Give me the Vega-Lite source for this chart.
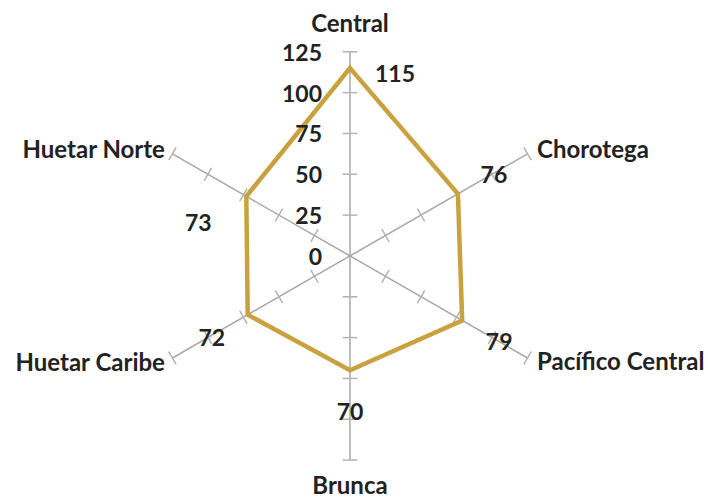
{
  "$schema": "https://vega.github.io/schema/vega-lite/v6.json",
  "width": 708,
  "height": 500,
  "autosize": {"type": "fit", "contains": "padding"},
  "padding": 0,
  "background": "white",
  "config": {"view": {"stroke": null}, "text": {"font": "Lato", "fontWeight": "bold", "fontSize": 23, "color": "#222222"}},
  "datasets": {
    "regions": [
      {"region": "Central", "angle": 90, "value": 115, "order": 0, "ticks": [25, 50, 75, 100, 125]},
      {"region": "Chorotega", "angle": 30, "value": 76, "order": 1, "ticks": [25, 50, 75, 100, 125]},
      {"region": "Pacífico Central", "angle": -30, "value": 79, "order": 2, "ticks": [25, 50, 75, 100, 125]},
      {"region": "Brunca", "angle": -90, "value": 70, "order": 3, "ticks": [25, 50, 75, 100, 125]},
      {"region": "Huetar Caribe", "angle": -150, "value": 72, "order": 4, "ticks": [25, 50, 75, 100, 125]},
      {"region": "Huetar Norte", "angle": 150, "value": 73, "order": 5, "ticks": [25, 50, 75, 100, 125]}
    ],
    "levels": [
      {"level": 0}, {"level": 25}, {"level": 50}, {"level": 75}, {"level": 100}, {"level": 125}
    ]
  },
  "layer": [
    {
      "data": {"name": "regions"},
      "transform": [
        {"calculate": "datum.angle*PI/180", "as": "rad"},
        {"calculate": "125*cos(datum.rad)", "as": "ex"},
        {"calculate": "125*sin(datum.rad)", "as": "ey"},
        {"calculate": "0", "as": "o"}
      ],
      "mark": {"type": "rule", "color": "#a8a8a8", "strokeWidth": 1.5},
      "encoding": {
        "x": {"field": "o", "type": "quantitative", "scale": {"domain": [-213.4, 218.3], "nice": false, "zero": false}, "axis": null},
        "y": {"field": "o", "type": "quantitative", "scale": {"domain": [-148.2, 156.7], "nice": false, "zero": false}, "axis": null},
        "x2": {"field": "ex"},
        "y2": {"field": "ey"}
      }
    },
    {
      "data": {"name": "regions"},
      "transform": [
        {"flatten": ["ticks"], "as": ["t"]},
        {"calculate": "datum.angle*PI/180", "as": "rad"},
        {"calculate": "datum.t*cos(datum.rad) - 4.5*sin(datum.rad)", "as": "ax"},
        {"calculate": "datum.t*sin(datum.rad) + 4.5*cos(datum.rad)", "as": "ay"},
        {"calculate": "datum.t*cos(datum.rad) + 4.5*sin(datum.rad)", "as": "bx"},
        {"calculate": "datum.t*sin(datum.rad) - 4.5*cos(datum.rad)", "as": "by"}
      ],
      "mark": {"type": "rule", "color": "#b3b3b3", "strokeWidth": 1.5},
      "encoding": {
        "x": {"field": "ax", "type": "quantitative", "scale": {"domain": [-213.4, 218.3], "nice": false, "zero": false}, "axis": null},
        "y": {"field": "ay", "type": "quantitative", "scale": {"domain": [-148.2, 156.7], "nice": false, "zero": false}, "axis": null},
        "x2": {"field": "bx"},
        "y2": {"field": "by"}
      }
    },
    {
      "data": {"name": "regions"},
      "transform": [
        {"calculate": "datum.angle*PI/180", "as": "rad"},
        {"calculate": "datum.value*cos(datum.rad)", "as": "vx"},
        {"calculate": "datum.value*sin(datum.rad)", "as": "vy"}
      ],
      "mark": {"type": "line", "color": "#c9a23f", "strokeWidth": 4.5, "interpolate": "linear-closed"},
      "encoding": {
        "x": {"field": "vx", "type": "quantitative", "scale": {"domain": [-213.4, 218.3], "nice": false, "zero": false}, "axis": null},
        "y": {"field": "vy", "type": "quantitative", "scale": {"domain": [-148.2, 156.7], "nice": false, "zero": false}, "axis": null},
        "order": {"field": "order", "type": "quantitative"}
      }
    },
    {
      "data": {"name": "regions"},
      "transform": [
        {"calculate": "datum.angle*PI/180", "as": "rad"},
        {"calculate": "datum.region==='Central' ? 45 : datum.region==='Chorotega' ? 36 : datum.region==='Pacífico Central' ? 37 : datum.region==='Brunca' ? 0 : datum.region==='Huetar Caribe' ? -36 : -48", "as": "dxp"},
        {"calculate": "datum.region==='Central' ? 7 : datum.region==='Chorotega' ? -18 : datum.region==='Pacífico Central' ? 23 : datum.region==='Brunca' ? 43 : datum.region==='Huetar Caribe' ? 24 : 28", "as": "dyp"},
        {"calculate": "datum.value*cos(datum.rad) + datum.dxp/1.64", "as": "lx"},
        {"calculate": "datum.value*sin(datum.rad) - datum.dyp/1.64", "as": "ly"}
      ],
      "mark": {"type": "text", "align": "center", "baseline": "middle"},
      "encoding": {
        "x": {"field": "lx", "type": "quantitative", "scale": {"domain": [-213.4, 218.3], "nice": false, "zero": false}, "axis": null},
        "y": {"field": "ly", "type": "quantitative", "scale": {"domain": [-148.2, 156.7], "nice": false, "zero": false}, "axis": null},
        "text": {"field": "value", "type": "quantitative"}
      }
    },
    {
      "data": {"name": "regions"},
      "transform": [
        {"filter": "datum.region==='Central' || datum.region==='Brunca'"},
        {"calculate": "datum.angle*PI/180", "as": "rad"},
        {"calculate": "(125 + 16.5)*sin(datum.rad)", "as": "ly"},
        {"calculate": "0", "as": "lx"}
      ],
      "mark": {"type": "text", "align": "center", "baseline": "middle", "fontSize": 24},
      "encoding": {
        "x": {"field": "lx", "type": "quantitative", "scale": {"domain": [-213.4, 218.3], "nice": false, "zero": false}, "axis": null},
        "y": {"field": "ly", "type": "quantitative", "scale": {"domain": [-148.2, 156.7], "nice": false, "zero": false}, "axis": null},
        "text": {"field": "region", "type": "nominal"}
      }
    },
    {
      "data": {"name": "regions"},
      "transform": [
        {"filter": "datum.region==='Chorotega' || datum.region==='Pacífico Central'"},
        {"calculate": "datum.angle*PI/180", "as": "rad"},
        {"calculate": "125*cos(datum.rad)", "as": "lx"},
        {"calculate": "125*sin(datum.rad) - (datum.region==='Chorotega' ? -2.5 : 4.5)/1.64", "as": "ly"}
      ],
      "mark": {"type": "text", "align": "left", "baseline": "middle", "dx": 9.5, "fontSize": 24},
      "encoding": {
        "x": {"field": "lx", "type": "quantitative", "scale": {"domain": [-213.4, 218.3], "nice": false, "zero": false}, "axis": null},
        "y": {"field": "ly", "type": "quantitative", "scale": {"domain": [-148.2, 156.7], "nice": false, "zero": false}, "axis": null},
        "text": {"field": "region", "type": "nominal"}
      }
    },
    {
      "data": {"name": "regions"},
      "transform": [
        {"filter": "datum.region==='Huetar Caribe' || datum.region==='Huetar Norte'"},
        {"calculate": "datum.angle*PI/180", "as": "rad"},
        {"calculate": "125*cos(datum.rad)", "as": "lx"},
        {"calculate": "125*sin(datum.rad) - (datum.region==='Huetar Norte' ? -2.5 : 6.5)/1.64", "as": "ly"}
      ],
      "mark": {"type": "text", "align": "right", "baseline": "middle", "dx": -7.5, "fontSize": 24},
      "encoding": {
        "x": {"field": "lx", "type": "quantitative", "scale": {"domain": [-213.4, 218.3], "nice": false, "zero": false}, "axis": null},
        "y": {"field": "ly", "type": "quantitative", "scale": {"domain": [-148.2, 156.7], "nice": false, "zero": false}, "axis": null},
        "text": {"field": "region", "type": "nominal"}
      }
    },
    {
      "data": {"name": "levels"},
      "transform": [{"calculate": "0", "as": "o"}],
      "mark": {"type": "text", "align": "right", "baseline": "middle", "dx": -28, "dy": 2},
      "encoding": {
        "x": {"field": "o", "type": "quantitative", "scale": {"domain": [-213.4, 218.3], "nice": false, "zero": false}, "axis": null},
        "y": {"field": "level", "type": "quantitative", "scale": {"domain": [-148.2, 156.7], "nice": false, "zero": false}, "axis": null},
        "text": {"field": "level", "type": "quantitative"}
      }
    }
  ]
}
